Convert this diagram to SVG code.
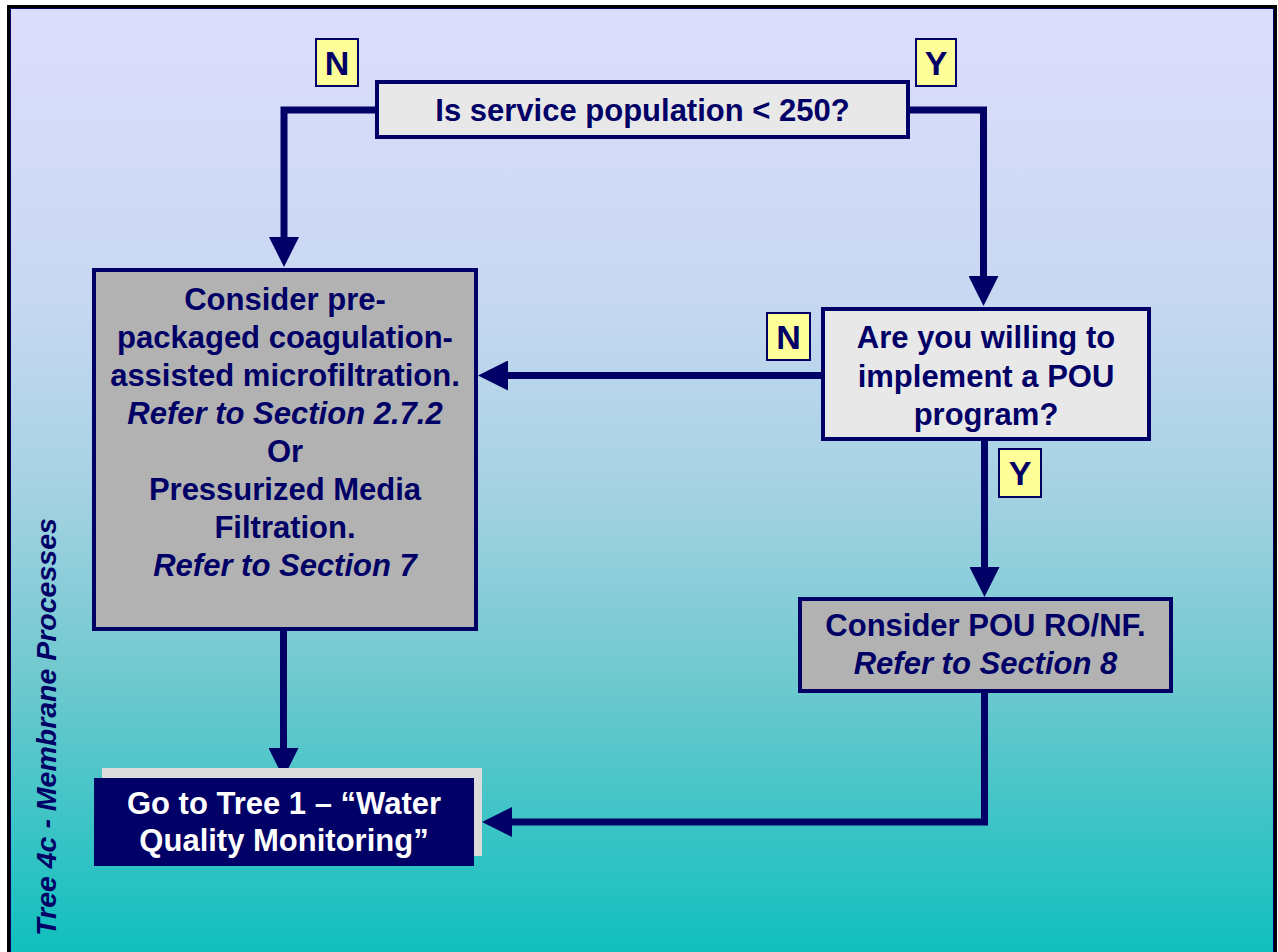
<svg xmlns="http://www.w3.org/2000/svg" width="1278" height="952" viewBox="0 0 1278 952">
<defs>
<linearGradient id="bg" x1="0" y1="0" x2="0" y2="1">
<stop offset="0" stop-color="#DDDDFC"/>
<stop offset="0.3" stop-color="#C8D8F2"/>
<stop offset="0.5" stop-color="#A6D2E3"/>
<stop offset="0.7" stop-color="#6FC9CF"/>
<stop offset="1" stop-color="#0BBFBD"/>
</linearGradient>
<marker id="ah" markerUnits="userSpaceOnUse" markerWidth="30" markerHeight="30" viewBox="0 -15 30 30" refX="0" refY="0" orient="auto">
<path d="M0,-15 L30,0 L0,15 z" fill="#000066"/>
</marker>
<style>
.conn{fill:none;stroke:#000066;stroke-width:7;stroke-linejoin:miter;stroke-linecap:butt}
.t{font-family:"Liberation Sans",Arial,sans-serif;font-weight:bold;font-size:31px;fill:#000066;text-anchor:middle}
.i{font-style:italic}
.w{fill:#FFFFFF}
.side{font-family:"Liberation Sans",Arial,sans-serif;font-weight:bold;font-style:italic;font-size:28.5px;fill:#000066;text-anchor:middle}
.lbl rect{fill:#FFFF99;stroke:#000066;stroke-width:2}
.lbl text{font-family:"Liberation Sans",Arial,sans-serif;font-weight:bold;font-size:34px;fill:#000066;text-anchor:middle}
.q{fill:#E8E8E8;stroke:#000066;stroke-width:4}
.g{fill:#B2B2B2;stroke:#000066;stroke-width:4}
</style>
</defs>
<rect x="8.5" y="6.5" width="1267" height="960" fill="url(#bg)" stroke="#000000" stroke-width="3"/>
<rect x="10.5" y="8.5" width="1263" height="960" fill="none" stroke="#000066" stroke-width="1"/>

<text class="side" transform="translate(56,727) rotate(-90)">Tree 4c - Membrane Processes</text>

<g id="connectors">
<path class="conn" d="M377,110 H284 V237" marker-end="url(#ah)"/>
<path class="conn" d="M908,110 H983.5 V276" marker-end="url(#ah)"/>
<path class="conn" d="M821,375.5 H508" marker-end="url(#ah)"/>
<path class="conn" d="M984.5,441 V567" marker-end="url(#ah)"/>
<path class="conn" d="M283.5,631 V748" marker-end="url(#ah)"/>
<path class="conn" d="M984.5,693 V822 H512" marker-end="url(#ah)"/>
</g>

<g id="q1">
<rect class="q" x="377" y="82" width="531" height="55"/>
<text class="t" x="642.5" y="121">Is service population &lt; 250?</text>
</g>

<g id="lblN1" class="lbl">
<rect x="316" y="39" width="42" height="47"/>
<text x="337" y="74.5">N</text>
</g>
<g id="lblY1" class="lbl">
<rect x="916" y="39" width="40" height="47"/>
<text x="936" y="74.5">Y</text>
</g>

<g id="a1">
<rect class="g" x="94" y="270" width="382" height="359"/>
<text class="t" x="285" y="310">Consider pre-</text>
<text class="t" x="285" y="348">packaged coagulation-</text>
<text class="t" x="285" y="386">assisted microfiltration.</text>
<text class="t i" x="285" y="424">Refer to Section 2.7.2</text>
<text class="t" x="285" y="462">Or</text>
<text class="t" x="285" y="500">Pressurized Media</text>
<text class="t" x="285" y="538">Filtration.</text>
<text class="t i" x="285" y="576">Refer to Section 7</text>
</g>

<g id="q2">
<rect class="q" x="823" y="309" width="326" height="130"/>
<text class="t" x="986" y="348">Are you willing to</text>
<text class="t" x="986" y="387">implement a POU</text>
<text class="t" x="986" y="425">program?</text>
</g>

<g id="lblN2" class="lbl">
<rect x="767" y="313" width="43" height="47"/>
<text x="788.5" y="348.5">N</text>
</g>
<g id="lblY2" class="lbl">
<rect x="999" y="449" width="42" height="48"/>
<text x="1020" y="485">Y</text>
</g>

<g id="a2">
<rect class="g" x="800" y="599" width="371" height="92"/>
<text class="t" x="985.5" y="636">Consider POU RO/NF.</text>
<text class="t i" x="985.5" y="674">Refer to Section 8</text>
</g>

<g id="end">
<rect x="102" y="768" width="380" height="88" fill="#DCDCDC"/>
<rect x="94" y="778" width="380" height="88" fill="#000066"/>
<text class="t w" x="284" y="814">Go to Tree 1 – “Water</text>
<text class="t w" x="284" y="851">Quality Monitoring”</text>
</g>
</svg>
